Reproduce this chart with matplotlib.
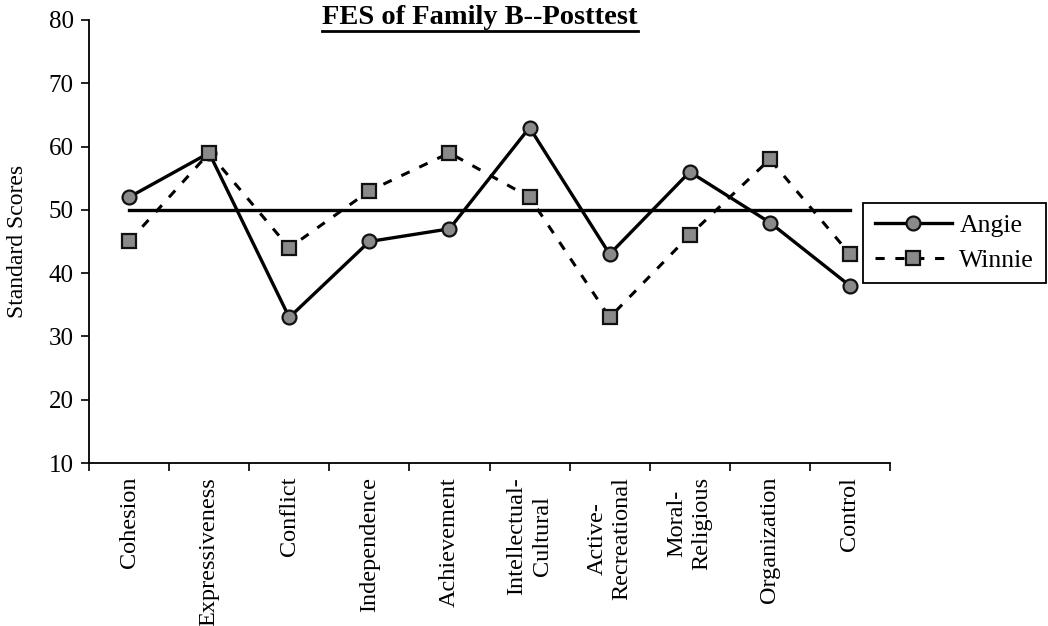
import matplotlib
matplotlib.use("Agg")
import matplotlib.pyplot as plt
from matplotlib.lines import Line2D
import numpy as np

# data
categories = ["Cohesion", "Expressiveness", "Conflict", "Independence", "Achievement",
              "Intellectual-\nCultural", "Active-\nRecreational", "Moral-\nReligious",
              "Organization", "Control"]
angie = [52, 59, 33, 45, 47, 63, 43, 56, 48, 38]
winnie = [45, 59, 44, 53, 59, 52, 33, 46, 58, 43]
norm = [50] * len(categories)

plt.rcParams['font.family'] = ['Liberation Serif', 'DejaVu Serif']

fig = plt.figure(figsize=(10.48, 6.26), dpi=100)
ax = fig.add_axes([89 / 1048, 1 - 463 / 626, 801 / 1048, 443 / 626])

x = np.arange(len(categories))
ax.plot(x, norm, c='black', lw=2.4, zorder=2)
ax.plot(x, angie, c='black', lw=2.4, marker='o', ms=10, mfc='#8a8a8a', mec='#111111',
        mew=1.6, label='Angie', zorder=3)
ax.plot(x, winnie, c='black', lw=2.2, ls=(0, (3, 3.5)), marker='s', ms=10, mfc='#8a8a8a',
        mec='#111111', mew=1.6, label='Winnie', zorder=3)

ax.set_xlim(-0.5, len(categories) - 0.5)
ax.set_ylim(10, 80)
ax.set_yticks(range(10, 81, 10))
ax.set_xticks(x)
ax.set_xticklabels(categories, rotation=90, fontsize=17.5, linespacing=1.25)
ax.set_xticks(np.arange(-0.5, len(categories), 1), minor=True)
ax.tick_params(axis='x', which='major', length=0, pad=10)
ax.tick_params(axis='x', which='minor', length=6, width=1.2, direction='out')
ax.tick_params(axis='y', labelsize=18, length=6, width=1.2, direction='out', pad=5)
ax.spines['top'].set_visible(False)
ax.spines['right'].set_visible(False)
ax.spines['left'].set_linewidth(1.3)
ax.spines['bottom'].set_linewidth(1.3)

fig.text(18 / 1048, 1 - 241 / 626, "Standard Scores", rotation=90, ha='center', va='center',
         fontsize=17)

title = fig.text(480 / 1048, 1 - 17 / 626, "FES of Family B--Posttest", ha='center',
                 va='center', fontsize=20.5, fontweight='bold')
fig.canvas.draw()
bb = title.get_window_extent().transformed(fig.transFigure.inverted())
fig.add_artist(Line2D([bb.x0, bb.x1], [bb.y0 - 0.002, bb.y0 - 0.002], color='black', lw=2,
                      transform=fig.transFigure))

leg = ax.legend(loc='center left', bbox_to_anchor=(863 / 1048, 1 - 243 / 626),
                bbox_transform=fig.transFigure, fontsize=18.5, fancybox=False,
                edgecolor='black', framealpha=1, handlelength=3.0, borderpad=0.45,
                labelspacing=0.45, handletextpad=0.3, borderaxespad=0)
leg.get_frame().set_linewidth(1.3)

fig.savefig("out.png", dpi=100)
